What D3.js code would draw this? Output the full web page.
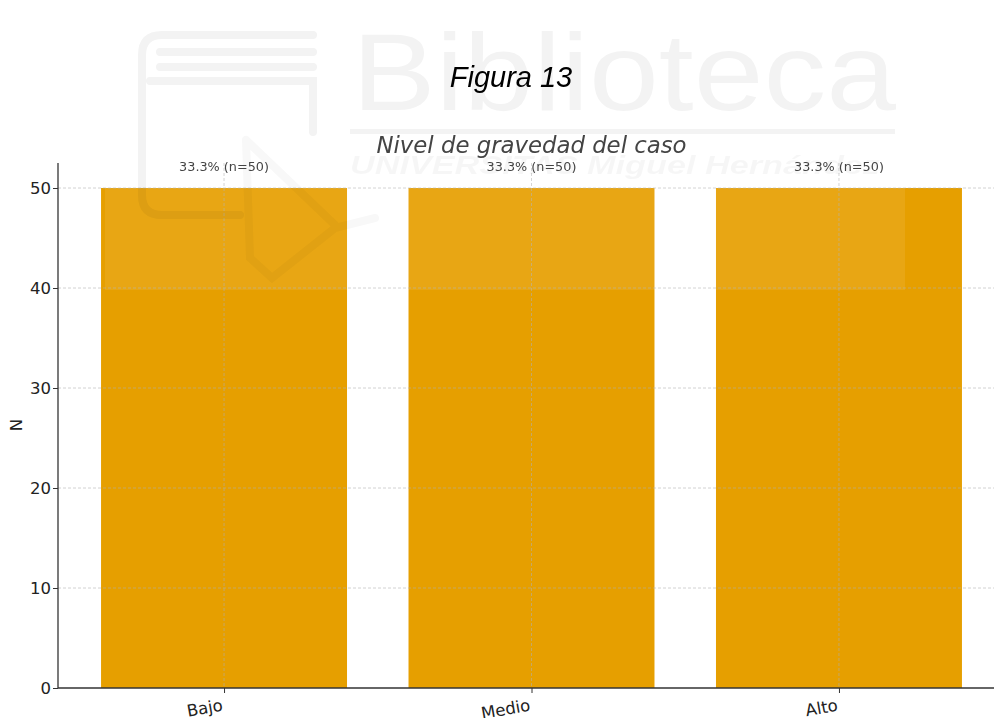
<!DOCTYPE html>
<html><head><meta charset="utf-8">
<script src="https://cdn.jsdelivr.net/npm/d3@7"></script>
<style>body{margin:0;background:#fff}svg{display:block}</style>
</head><body>
<svg id="c" width="994" height="718"></svg>
<script>
const categories = ["Bajo", "Medio", "Alto"];
const counts = [50, 50, 50];
const pctLabels = ["33.3% (n=50)", "33.3% (n=50)", "33.3% (n=50)"];
const yTicks = [0, 10, 20, 30, 40, 50];

(function () {
const svg = d3.select("#c");
const pL = 58, pT = 163, pB = 688, pR = 1005;

const x = d3.scaleLinear().domain([-0.54, 2.54]).range([pL, pR]);
const y = d3.scaleLinear().domain([0, 52.5]).range([pB, pT]);
const bw = 0.8;

// bars
svg.append("g").selectAll("rect").data(counts).join("rect")
  .attr("x", (d, i) => x(i - bw / 2)).attr("width", x(bw) - x(0))
  .attr("y", d => y(d)).attr("height", d => y(0) - y(d))
  .attr("fill", "#E69F00");

// grid
const g = svg.append("g").attr("stroke", "#b0b0b0").attr("stroke-dasharray", "3,2").attr("stroke-width", 0.8).attr("opacity", 0.7);
g.selectAll("line.h").data(yTicks.filter(t => t > 0)).join("line")
  .attr("x1", pL).attr("x2", 994).attr("y1", d => y(d)).attr("y2", d => y(d));
g.selectAll("line.v").data(categories).join("line")
  .attr("x1", (d, i) => x(i)).attr("x2", (d, i) => x(i)).attr("y1", pT).attr("y2", pB);

// watermark (semi-transparent overlay, drawn beneath the text)
svg.append("rect").attr("x", 105).attr("y", 15).attr("width", 800).attr("height", 275)
  .attr("fill", "#fff").attr("opacity", 0.08);
const wm = svg.append("g").attr("opacity", 0.05);
wm.append("text").attr("x", 352).attr("y", 110).attr("font-family", "Liberation Sans, Arial, sans-serif")
  .attr("font-size", 110).attr("textLength", 544).attr("lengthAdjust", "spacingAndGlyphs")
  .attr("fill", "#000").text("Biblioteca");
wm.append("rect").attr("x", 350).attr("y", 129).attr("width", 545).attr("height", 5).attr("fill", "#000");
wm.append("text").attr("x", 350).attr("y", 174).attr("font-family", "Liberation Sans, Arial, sans-serif")
  .attr("font-size", 25).attr("font-weight", "bold").attr("font-style", "italic")
  .attr("textLength", 530).attr("lengthAdjust", "spacingAndGlyphs").attr("opacity", 0.7)
  .attr("fill", "#000").text("UNIVERSITAS Miguel Hernández");
const lg = wm.append("g").attr("fill", "none").attr("stroke", "#000").attr("stroke-width", 8).attr("stroke-linecap", "round");
lg.append("path").attr("d", "M313,35 H162 Q142,35 142,55 V195 Q142,215 162,215 H240");
lg.append("path").attr("d", "M160,52 H313 M160,67 H313 M150,81 H313 V132");
lg.append("path").attr("d", "M246,140 L335,225 M246,140 L250,258 L272,278 L335,228 L375,218")
  .attr("opacity", 0.6);

// value labels
svg.append("g").selectAll("text").data(pctLabels).join("text")
  .attr("x", (d, i) => x(i)).attr("y", (d, i) => y(counts[i]) - 17)
  .attr("text-anchor", "middle").attr("font-family", "DejaVu Sans, sans-serif")
  .attr("font-size", 12.8).attr("fill", "#444").text(d => d);

// title
svg.append("text").attr("x", 511).attr("y", 87).attr("text-anchor", "middle")
  .attr("font-family", "Liberation Sans, Arial, sans-serif").attr("font-style", "italic")
  .attr("font-size", 29).attr("fill", "#000").text("Figura 13");

svg.append("text").attr("x", 531.5).attr("y", 153).attr("text-anchor", "middle")
  .attr("font-family", "DejaVu Sans, sans-serif").attr("font-style", "italic")
  .attr("font-size", 22.8).attr("fill", "#444").text("Nivel de gravedad del caso");

// y axis
const ya = svg.append("g").attr("transform", `translate(${pL},0)`)
  .call(d3.axisLeft(y).tickValues(yTicks).tickSize(5).tickPadding(2));
ya.select(".domain").attr("stroke", "#333").attr("stroke-width", 1.3).attr("d", `M0,${pT}V${pB}`);
ya.selectAll(".tick line").attr("stroke", "#333");
ya.selectAll("text").attr("font-family", "DejaVu Sans, sans-serif").attr("font-size", 16.5).attr("fill", "#222");

// x axis
const xa = svg.append("g").attr("transform", `translate(0,${pB})`)
  .call(d3.axisBottom(x).tickValues([0, 1, 2]).tickFormat(i => categories[i]).tickSize(5));
xa.select(".domain").attr("stroke", "#333").attr("stroke-width", 1.3).attr("d", `M${pL},0H994`);
xa.selectAll(".tick line").attr("stroke", "#333");
xa.selectAll("text").attr("font-family", "DejaVu Sans, sans-serif").attr("font-size", 16.5).attr("fill", "#222")
  .attr("text-anchor", "end").attr("x", 0).attr("y", 0).attr("dy", 0)
  .attr("transform", "translate(-1,22.5) rotate(-10)");

svg.append("text").attr("transform", "translate(22,425) rotate(-90)").attr("text-anchor", "middle")
  .attr("font-family", "DejaVu Sans, sans-serif").attr("font-size", 16.5).attr("fill", "#222").text("N");
})();
</script>
</body></html>
